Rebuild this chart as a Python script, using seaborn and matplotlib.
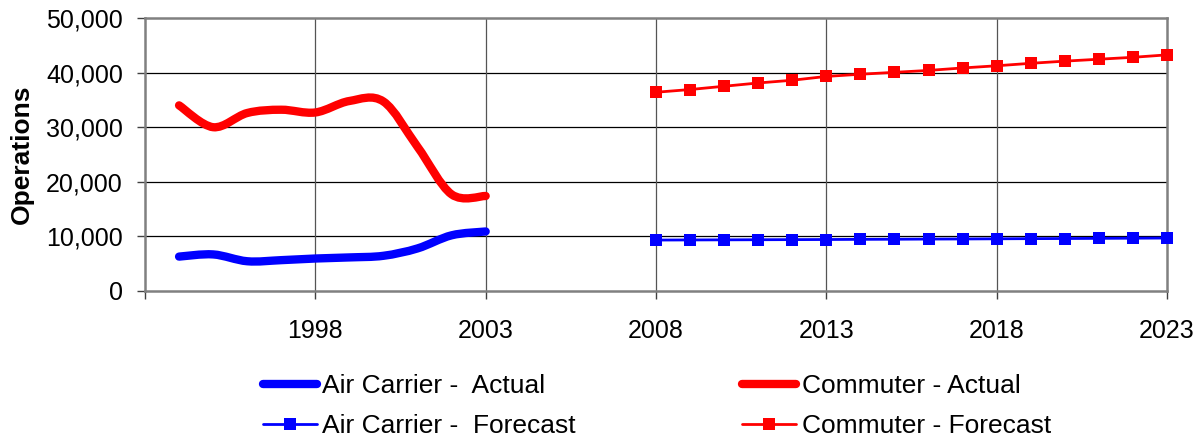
import numpy as np
import seaborn as sns
import matplotlib.pyplot as plt
from matplotlib.path import Path
from matplotlib.patches import PathPatch
from matplotlib.lines import Line2D
from matplotlib.ticker import FuncFormatter

# values
years_actual = [1994, 1995, 1996, 1997, 1998, 1999, 2000, 2001, 2002, 2003]
air_carrier_actual = [6300, 6700, 5450, 5650, 5950, 6150, 6450, 7800, 10200, 10900]
commuter_actual = [34000, 30000, 32600, 33200, 32700, 34800, 34700, 26400, 17700, 17400]

years_forecast = [2008, 2009, 2010, 2011, 2012, 2013, 2014, 2015,
                  2016, 2017, 2018, 2019, 2020, 2021, 2022, 2023]
air_carrier_forecast = [9330, 9350, 9370, 9390, 9410, 9430, 9460, 9480,
                        9510, 9530, 9560, 9590, 9610, 9640, 9670, 9700]
commuter_forecast = [36400, 36900, 37500, 38100, 38600, 39300, 39700, 40050,
                     40400, 40850, 41250, 41700, 42100, 42450, 42800, 43250]

x_ticks = [1993, 1998, 2003, 2008, 2013, 2018, 2023]
x_tick_labels = ["", "1998", "2003", "2008", "2013", "2018", "2023"]
y_ticks = [0, 10000, 20000, 30000, 40000, 50000]

labels = ["Air Carrier -  Actual", "Air Carrier -  Forecast",
          "Commuter - Actual", "Commuter - Forecast"]

BLUE = "#0000FF"
RED = "#FF0000"


def smooth_path(xs, ys):
    # cubic bezier through the points (Excel style smoothed line)
    pts = np.column_stack([xs, ys]).astype(float)
    n = len(pts)
    verts = [pts[0]]
    codes = [Path.MOVETO]
    for i in range(n - 1):
        p0 = pts[max(i - 1, 0)]
        p1 = pts[i]
        p2 = pts[i + 1]
        p3 = pts[min(i + 2, n - 1)]
        verts += [p1 + (p2 - p0) / 6, p2 - (p3 - p1) / 6, p2]
        codes += [Path.CURVE4] * 3
    return Path(verts, codes)


def main():
    sns.set_style("white")
    plt.rcParams["font.family"] = ["Liberation Sans", "DejaVu Sans"]
    plt.rcParams["text.color"] = "black"
    plt.rcParams["axes.labelcolor"] = "black"

    fig = plt.figure(figsize=(12.01, 4.43), dpi=100)
    ax = fig.add_axes([145 / 1201, 1 - 291 / 443, (1167 - 145) / 1201, (291 - 18) / 443])

    # smoothed actual lines
    for ys, col in [(air_carrier_actual, BLUE), (commuter_actual, RED)]:
        patch = PathPatch(smooth_path(years_actual, ys), facecolor="none",
                          edgecolor=col, lw=6, capstyle="round", joinstyle="round",
                          zorder=3)
        ax.add_patch(patch)

    # forecast lines with square markers
    sns.lineplot(x=years_forecast, y=air_carrier_forecast, color=BLUE, lw=2,
                 marker="s", markersize=9, markeredgewidth=0, ax=ax,
                 clip_on=False, zorder=4)
    sns.lineplot(x=years_forecast, y=commuter_forecast, color=RED, lw=2,
                 marker="s", markersize=9, markeredgewidth=0, ax=ax,
                 clip_on=False, zorder=4)

    ax.set_xlim(1993, 2023)
    ax.set_ylim(0, 50000)
    ax.set_xticks(x_ticks)
    ax.set_xticklabels(x_tick_labels)
    ax.set_yticks(y_ticks)
    ax.yaxis.set_major_formatter(FuncFormatter(lambda v, p: f"{int(v):,}"))

    # gridlines
    for y in y_ticks[1:-1]:
        ax.axhline(y, color="black", lw=0.9, zorder=1)
    for x in x_ticks[1:-1]:
        ax.axvline(x, color="#555555", lw=0.9, zorder=1)

    for side in ["left", "bottom", "top", "right"]:
        ax.spines[side].set_color("#808080")
        ax.spines[side].set_linewidth(1.8)

    ax.tick_params(axis="both", direction="out", length=6, width=1,
                   color="#404040", labelsize=18, labelcolor="black")
    ax.tick_params(axis="y", pad=10, left=True)
    ax.tick_params(axis="x", pad=14, bottom=True)

    ax.set_xlabel("")
    ax.set_ylabel("Operations", fontsize=19, fontweight="bold", labelpad=9,
                  color="black")

    handles = [
        Line2D([], [], color=BLUE, lw=6, solid_capstyle="round"),
        Line2D([], [], color=BLUE, lw=2, marker="s", markersize=9, markeredgewidth=0),
        Line2D([], [], color=RED, lw=6, solid_capstyle="round"),
        Line2D([], [], color=RED, lw=2, marker="s", markersize=9, markeredgewidth=0),
    ]
    leg = fig.legend(handles, labels, ncol=2, loc="upper left",
                     bbox_to_anchor=(263 / 1201, 1 - 374 / 443), frameon=False,
                     fontsize=19, handlelength=2.05, handletextpad=0.2,
                     columnspacing=6.3, labelspacing=0.6, borderpad=0,
                     borderaxespad=0)
    for t in leg.get_texts():
        t.set_color("black")

    fig.savefig("out.png", dpi=100)
    plt.close(fig)


if __name__ == "__main__":
    main()
